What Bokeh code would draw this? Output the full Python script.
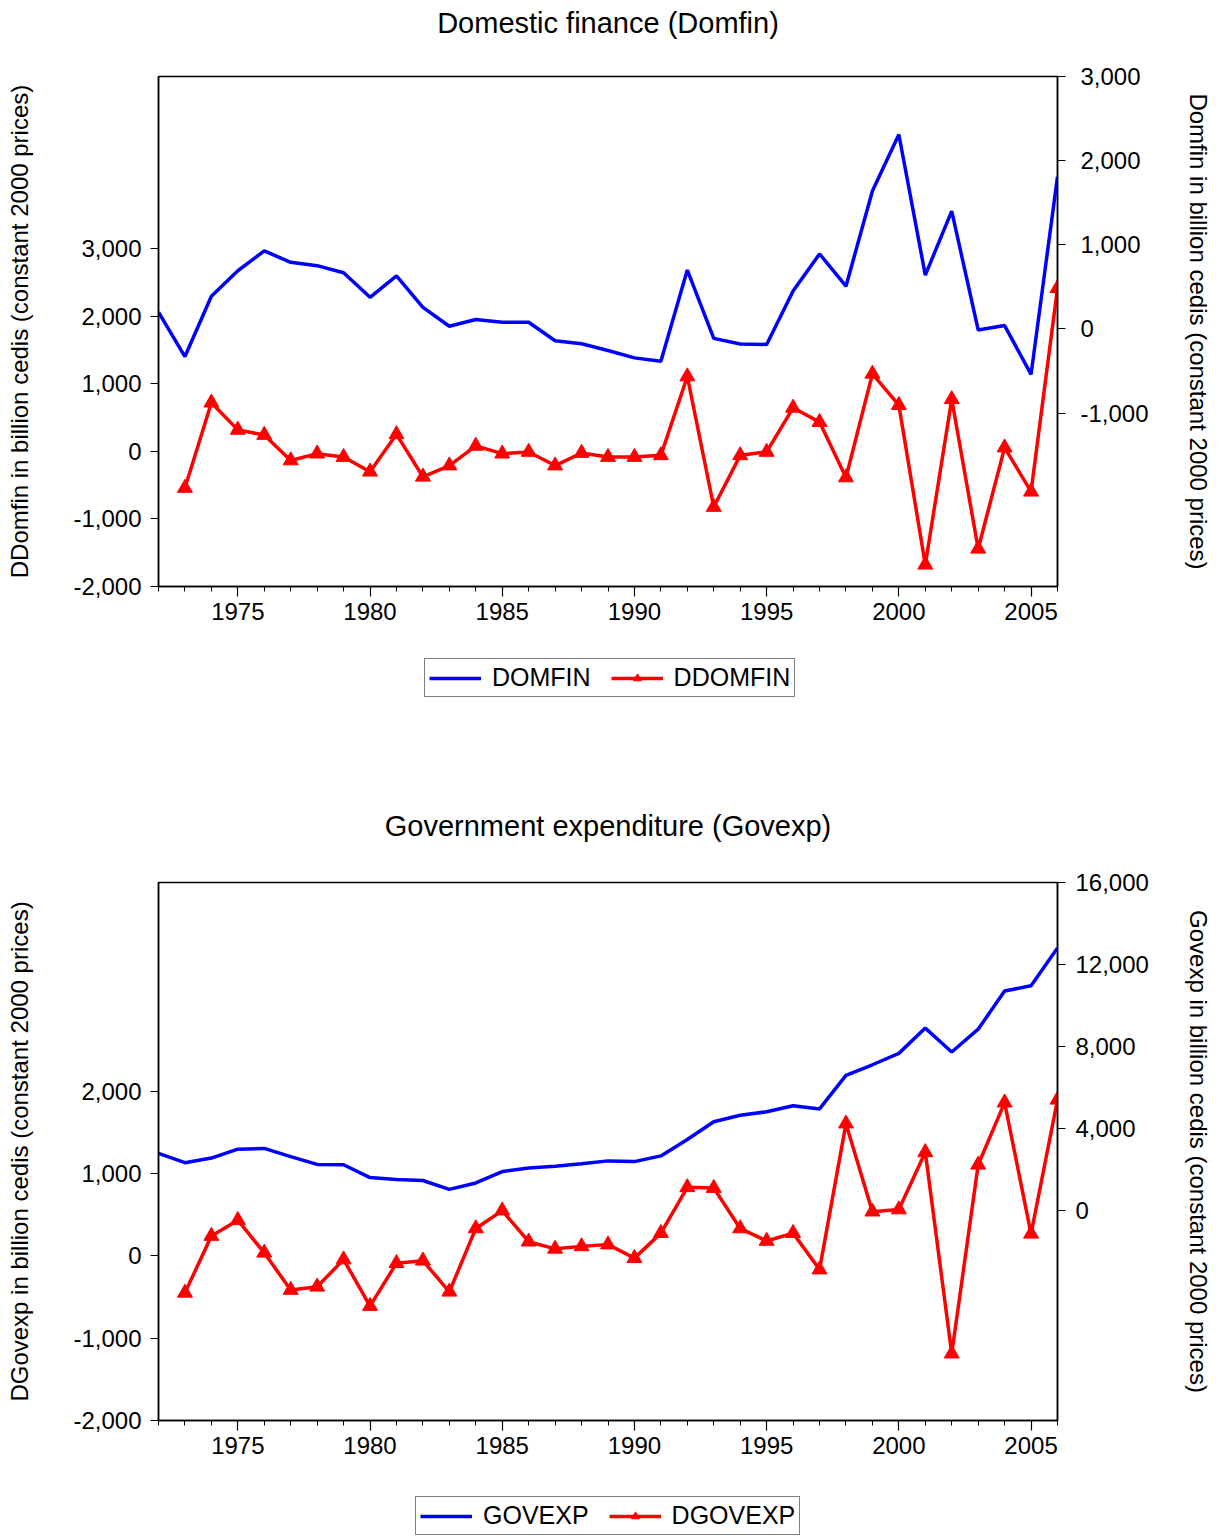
from bokeh.plotting import figure
from bokeh.models import (Range1d, LinearAxis, FixedTicker, NumeralTickFormatter,
                          Legend, LegendItem, Label)
from bokeh.layouts import column
from bokeh.embed import file_html
from bokeh.resources import INLINE

# ---------------- data ----------------
years = list(range(1972, 2007))
dyears = list(range(1973, 2007))

domfin = [200, -328, 388, 692, 928, 792, 752, 668, 376, 632, 256, 32, 112, 80, 80,
          -140, -176, -256, -344, -384, 700, -112, -180, -184, 452, 892, 508, 1640,
          2312, 640, 1400, -12, 40, -540, 1808]
ddomfin = [-543, 719, 317, 241, -136, -35, -85, -302, 251, -377, -211, 80, -35, -10,
           -211, -25, -85, -85, -60, 1106, -824, -60, -10, 643, 432, -387, 1146, 683,
           -1678, 769, -1442, 55, -598, 2412]

govexp = [2765, 2313, 2539, 2974, 3009, 2609, 2226, 2209, 1583, 1496, 1443, 1009, 1322,
          1878, 2052, 2139, 2261, 2400, 2365, 2643, 3443, 4313, 4626, 4800, 5096, 4939,
          6574, 7096, 7652, 8887, 7722, 8835, 10696, 10957, 12800]
dgovexp = [-448, 243, 435, 39, -413, -374, -43, -609, -87, -57, -435, 335, 552, 174, 87,
           117, 139, -26, 278, 835, 826, 335, 183, 278, -165, 1609, 539, 565, 1261,
           -1187, 1109, 1865, 270, 1900]

x_major_ticks = [1975, 1980, 1985, 1990, 1995, 2000, 2005]
top_left_ticks = [3000, 2000, 1000, 0, -1000, -2000]
top_right_ticks = [3000, 2000, 1000, 0, -1000]
bot_left_ticks = [2000, 1000, 0, -1000, -2000]
bot_right_ticks = [16000, 12000, 8000, 4000, 0]

title_top = "Domestic finance (Domfin)"
title_bottom = "Government expenditure (Govexp)"

FONT = "Liberation Sans"
TICK_FS = "24px"
LABEL_FS = "24px"
BLUE = "#0000ff"
RED = "#ff0000"


def style_axis(ax, label=None, standoff=38):
    ax.major_label_text_font = FONT
    ax.major_label_text_font_size = TICK_FS
    ax.major_label_text_color = "black"
    ax.axis_line_color = "black"
    ax.axis_line_width = 1.5
    ax.major_tick_line_color = "black"
    ax.major_tick_line_width = 1.2
    ax.minor_tick_line_color = "black"
    ax.major_tick_in = 0
    ax.minor_tick_in = 0
    if label is not None:
        ax.axis_label = label
        ax.axis_label_text_font = FONT
        ax.axis_label_text_font_size = LABEL_FS
        ax.axis_label_text_font_style = "normal"
        ax.axis_label_text_color = "black"
        ax.axis_label_standoff = standoff


def make_fig(height, b_top, b_bottom, b_right, yl, yr,
             lticks, rticks, llabel, rlabel, r_label_standoff, r_standoff,
             lvals, dvals):
    p = figure(width=1227, height=height, x_range=Range1d(1972, 2006),
               y_range=Range1d(*yl), output_backend="svg", toolbar_location=None,
               min_border_left=158, min_border_right=b_right,
               min_border_top=b_top, min_border_bottom=b_bottom)
    p.xgrid.visible = False
    p.ygrid.visible = False
    p.outline_line_color = "black"
    p.outline_line_width = 1.5
    p.outline_line_alpha = 1.0
    p.background_fill_color = "white"
    p.border_fill_color = "white"

    p.extra_y_ranges = {"r": Range1d(*yr)}
    rax = LinearAxis(y_range_name="r")
    p.add_layout(rax, "right")

    xa = p.xaxis[0]
    style_axis(xa)
    xa.ticker = FixedTicker(ticks=x_major_ticks, minor_ticks=years)
    xa.major_tick_out = 10
    xa.minor_tick_out = 5
    xa.major_label_standoff = 6

    la = p.yaxis[0]
    style_axis(la, llabel, 37)
    la.ticker = FixedTicker(ticks=lticks)
    la.formatter = NumeralTickFormatter(format="0,0")
    la.major_tick_out = 8
    la.minor_tick_out = 0
    la.major_label_standoff = 9

    style_axis(rax, rlabel, r_standoff)
    rax.ticker = FixedTicker(ticks=rticks)
    rax.formatter = NumeralTickFormatter(format="0,0")
    rax.major_tick_out = 8
    rax.minor_tick_out = 0
    rax.major_label_standoff = r_label_standoff

    p.line(years, lvals, line_color=BLUE, line_width=3.5, y_range_name="r")
    p.line(dyears, dvals, line_color=RED, line_width=3.5)
    p.scatter(dyears, dvals, marker="triangle", size=15, fill_color=RED,
              line_color=RED)
    return p


def make_strip(height, title=None, title_y=None, names=None, lvals=None, dvals=None,
               loc=None):
    # a strip without axes that holds a chart title and/or a chart legend;
    # y is measured in pixels from the strip's bottom edge
    q = figure(width=1227, height=height, x_range=Range1d(0, 1),
               y_range=Range1d(0, height),
               output_backend="svg", toolbar_location=None,
               x_axis_location=None, y_axis_location=None,
               min_border_left=0, min_border_right=0, min_border_top=0,
               min_border_bottom=0)
    q.xgrid.visible = False
    q.ygrid.visible = False
    q.outline_line_color = None
    q.border_fill_color = "white"
    if title is not None:
        q.add_layout(Label(x=0.5, y=title_y, text=title, text_align="center",
                           text_baseline="middle", text_font=FONT,
                           text_font_size="29px", text_color="black"))
    if names is not None:
        # series plotted outside the strip's ranges: only the legend shows
        bl = q.line(years, lvals, line_color=BLUE, line_width=3.5)
        rl = q.line(dyears, dvals, line_color=RED, line_width=3.5)
        rs = q.scatter(dyears, dvals, marker="triangle", size=17, fill_color=RED,
                       line_color=RED)
        leg = Legend(items=[LegendItem(label=names[0], renderers=[bl]),
                            LegendItem(label=names[1], renderers=[rl, rs])],
                     location=loc, orientation="horizontal")
        leg.label_text_font = FONT
        leg.label_text_font_size = "25px"
        leg.label_text_color = "black"
        leg.glyph_width = 52
        leg.glyph_height = 20
        leg.label_standoff = 11
        leg.spacing = 20
        leg.padding = 4
        leg.margin = 0
        leg.border_line_color = "black"
        leg.border_line_width = 1.2
        leg.background_fill_alpha = 1.0
        q.add_layout(leg)
    return q


t1 = make_strip(60, title=title_top, title_y=38)

p1 = make_fig(590, 16, 64, 165,
              (-2000, 5544), (-3062, 3001), top_left_ticks, top_right_ticks,
              "DDomfin in billion cedis (constant 2000 prices)",
              "Domfin in billion cedis (constant 2000 prices)", 15, 33,
              domfin, ddomfin)

l1 = make_strip(210, title=title_bottom, title_y=35,
                names=["DOMFIN", "DDOMFIN"], lvals=domfin, dvals=ddomfin,
                loc=(266, 163))

p2 = make_fig(630, 22, 70, 170,
              (-2000, 4541), (-10284, 16001), bot_left_ticks, bot_right_ticks,
              "DGovexp in billion cedis (constant 2000 prices)",
              "Govexp in billion cedis (constant 2000 prices)", 10, 33,
              govexp, dgovexp)

l2 = make_strip(46, names=["GOVEXP", "DGOVEXP"], lvals=govexp, dvals=dgovexp,
                loc=(257, 1))

layout = column(t1, p1, l1, p2, l2, spacing=0)
open("out.html", "w").write(file_html(layout, INLINE))
